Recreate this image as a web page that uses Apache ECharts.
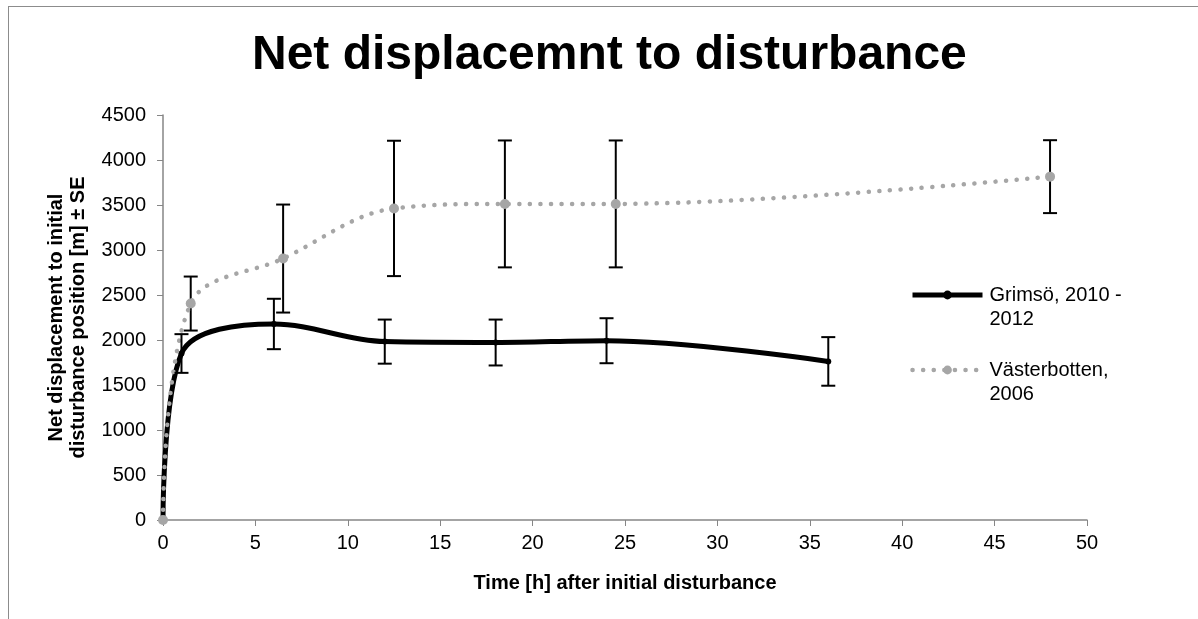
<!DOCTYPE html>
<html lang="en">
<head>
    <meta charset="UTF-8">
    <title>Net displacement</title>
    <script src="https://cdn.jsdelivr.net/npm/echarts@6/dist/echarts.min.js"></script>
    <style>
        body { margin: 0; }
        #frame {
            position: absolute; left: 8px; top: 6px; width: 1300px; height: 700px;
            border-left: 1px solid #8c8c8c; border-top: 1px solid #8c8c8c;
        }
        #main { position: absolute; left: 0; top: 0; width: 1198px; height: 619px; }
    </style>
</head>
<body>
    <div id="frame"></div>
    <div id="main"></div>

    <script>
        // hours after disturbance, mean displacement [m], SE [m]
        const grimsoHours = [0, 1, 6, 12, 18, 24, 36]
        const grimsoMean = [0, 1850, 2178, 1982, 1972, 1992, 1762]
        const grimsoSE = [0, 215, 280, 245, 255, 250, 270]

        const vastHours = [0, 1.5, 6.5, 12.5, 18.5, 24.5, 48]
        const vastMean = [0, 2405, 2905, 3462, 3512, 3512, 3815]
        const vastSE = [0, 300, 600, 752, 705, 705, 405]

        const xTicks = [0, 50, 5]      // min, max, step
        const yTicks = [0, 4500, 500]

        const font = 'Liberation Sans, Arial, sans-serif'
        const gName = 'Grimsö, 2010 -\n2012'
        const vName = 'Västerbotten,\n2006'
        const dots = [0.1, 10.5]

        function pairs (xs, ys) {
            return xs.map((x, i) => [x, ys[i]])
        }
        function bars (xs, ys, se) {
            let out = []
            xs.forEach((x, i) => {
                if (se[i] > 0) out.push([x, ys[i] - se[i], ys[i] + se[i]])
            })
            return out
        }

        function renderErr (params, api) {
            let lo = api.coord([api.value(0), api.value(1)])
            let hi = api.coord([api.value(0), api.value(2)])
            let w = 7
            let st = { stroke: '#000', lineWidth: 2 }
            return {
                type: 'group',
                children: [
                    { type: 'line', shape: { x1: lo[0], y1: lo[1], x2: hi[0], y2: hi[1] }, style: st },
                    { type: 'line', shape: { x1: lo[0] - w, y1: lo[1], x2: lo[0] + w, y2: lo[1] }, style: st },
                    { type: 'line', shape: { x1: hi[0] - w, y1: hi[1], x2: hi[0] + w, y2: hi[1] }, style: st }
                ]
            }
        }

        let chart = echarts.init(document.getElementById('main'))

        chart.setOption({
            animation: false,
            textStyle: { fontFamily: font, color: '#000' },
            title: {
                text: 'Net displacemnt to disturbance',
                left: 247,
                top: 27,
                textStyle: { fontSize: 48, fontWeight: 'bold', fontFamily: font, color: '#000' }
            },
            grid: { left: 163, top: 115, width: 924, height: 405 },
            legend: {
                orient: 'vertical',
                left: 910,
                top: 259,
                padding: 0,
                itemWidth: 70,
                itemHeight: 11,
                itemGap: 3,
                data: [
                    { name: gName, lineStyle: { width: 5, color: '#000' } },
                    { name: vName, lineStyle: { width: 4.5, color: '#a6a6a6', type: dots, cap: 'round' } }
                ],
                // blank first line keeps the icon beside the first text line
                formatter: name => '\u00a0\n' + name,
                textStyle: {
                    fontSize: 20, fontFamily: font, color: '#000',
                    lineHeight: 24, padding: [0, 0, 0, 2]
                }
            },
            xAxis: {
                type: 'value',
                min: xTicks[0], max: xTicks[1], interval: xTicks[2],
                name: 'Time [h] after initial disturbance',
                nameLocation: 'middle',
                nameGap: 53,
                nameTextStyle: { fontSize: 20, fontWeight: 'bold', color: '#000' },
                axisLine: { lineStyle: { color: '#868686', width: 1.5 } },
                axisTick: { length: 6, lineStyle: { color: '#868686' } },
                axisLabel: { fontSize: 20, color: '#000', margin: 13 },
                splitLine: { show: false }
            },
            yAxis: {
                type: 'value',
                min: yTicks[0], max: yTicks[1], interval: yTicks[2],
                name: 'Net displacement to initial\ndisturbance position [m] ± SE',
                nameLocation: 'middle',
                nameGap: 74,
                nameRotate: 90,
                nameTextStyle: { fontSize: 20, fontWeight: 'bold', color: '#000', lineHeight: 22 },
                axisLine: { show: true, lineStyle: { color: '#868686', width: 1.5 } },
                axisTick: { show: true, length: 6, lineStyle: { color: '#868686' } },
                axisLabel: { fontSize: 20, color: '#000', margin: 17, formatter: v => String(v) },
                splitLine: { show: false }
            },
            series: [
                {
                    name: gName,
                    type: 'line',
                    data: pairs(grimsoHours, grimsoMean),
                    smooth: 0.35,
                    symbol: 'circle',
                    symbolSize: 6,
                    itemStyle: { color: '#000' },
                    lineStyle: { color: '#000', width: 5 },
                    z: 2
                },
                {
                    name: vName,
                    type: 'line',
                    data: pairs(vastHours, vastMean),
                    smooth: 0.35,
                    symbol: 'circle',
                    symbolSize: 10,
                    itemStyle: { color: '#a6a6a6' },
                    lineStyle: { color: '#a6a6a6', width: 4.5, type: dots, cap: 'round' },
                    z: 3
                },
                {
                    type: 'custom',
                    renderItem: renderErr,
                    data: bars(grimsoHours, grimsoMean, grimsoSE),
                    encode: { x: 0, y: [1, 2] },
                    z: 4
                },
                {
                    type: 'custom',
                    renderItem: renderErr,
                    data: bars(vastHours, vastMean, vastSE),
                    encode: { x: 0, y: [1, 2] },
                    z: 2
                }
            ]
        })
    </script>
</body>
</html>
